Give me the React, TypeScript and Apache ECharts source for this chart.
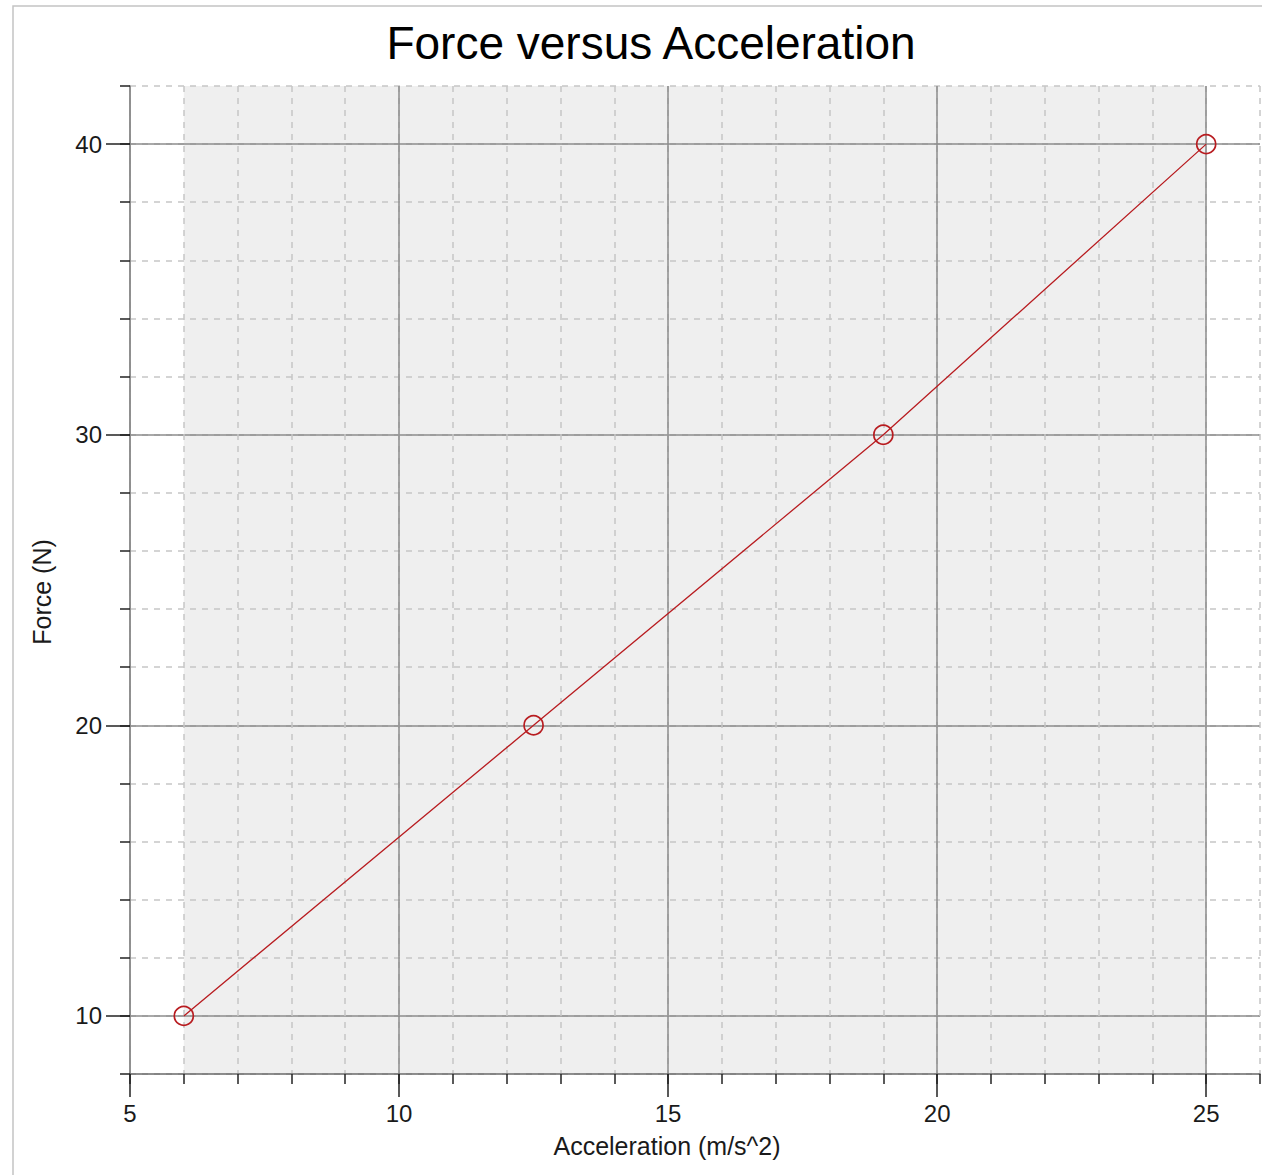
import React, { useEffect, useRef } from "react";
import * as echarts from "echarts";

// Measured points: acceleration (m/s^2) against force (N)
const acceleration = [6, 12.5, 19, 25];
const force = [10, 20, 30, 40];

// Axis extents and labelled ticks
const xMin = 5;
const xMax = 26;
const yMin = 8;
const yMax = 42;
const xMajorTicks = [5, 10, 15, 20, 25];
const yMajorTicks = [10, 20, 30, 40];

// Horizontal span of the measurements, shaded behind the grid
const dataSpan = [[acceleration[0], acceleration[acceleration.length - 1]]];

const FONT = "'Liberation Sans', Arial, sans-serif";
const LINE_RED = "#b81c20";

export default function App() {
  const ref = useRef<HTMLDivElement>(null);

  useEffect(() => {
    if (!ref.current) return;
    const chart = echarts.init(ref.current, undefined, { renderer: "svg" });

    const minorSplit = {
      show: true,
      lineStyle: { color: "#c6c6c6", width: 1.5, type: [6, 6] as number[] },
    };
    const majorSplit = {
      show: true,
      lineStyle: { color: "#8c8c8c", width: 1.5, type: "solid" as const },
    };
    const tickStyle = { color: "#222", width: 1.5 };
    const labelStyle = { fontSize: 24, color: "#1a1a1a", fontFamily: FONT };

    chart.setOption({
      animation: false,
      backgroundColor: "#ffffff",
      grid: {
        left: 130,
        top: 86,
        right: 2,
        bottom: 101,
        containLabel: false,
        outerBoundsMode: "none",
      },
      xAxis: [
        {
          type: "value",
          min: xMin,
          max: xMax,
          interval: 1,
          position: "bottom",
          axisLine: { show: true, onZero: false, lineStyle: { color: "#6a6a6a", width: 1.5 } },
          axisTick: { show: true, length: 10, lineStyle: tickStyle },
          axisLabel: { show: false },
          splitLine: minorSplit,
        },
        {
          type: "value",
          min: xMin,
          max: xMax,
          position: "bottom",
          axisLine: { show: false, onZero: false },
          axisTick: { show: true, length: 23, customValues: xMajorTicks, lineStyle: tickStyle },
          axisLabel: { show: true, margin: 27, customValues: xMajorTicks, ...labelStyle },
          splitLine: majorSplit,
        },
      ],
      yAxis: [
        {
          type: "value",
          min: yMin,
          max: yMax,
          interval: 2,
          position: "left",
          axisLine: { show: true, onZero: false, lineStyle: { color: "#8a8a8a", width: 1.5 } },
          axisTick: { show: true, length: 10, lineStyle: tickStyle },
          axisLabel: { show: false },
          splitLine: minorSplit,
        },
        {
          type: "value",
          min: yMin,
          max: yMax,
          position: "left",
          axisLine: { show: false, onZero: false },
          axisTick: { show: true, length: 24, customValues: yMajorTicks, lineStyle: tickStyle },
          axisLabel: { show: true, margin: 28, customValues: yMajorTicks, ...labelStyle },
          splitLine: majorSplit,
        },
      ],
      graphic: [
        {
          type: "rect",
          silent: true,
          z: -10,
          shape: { x: 13, y: 6, width: 1400, height: 1400 },
          style: { fill: "none", stroke: "#c4c4c4", lineWidth: 1.5 },
        },
        {
          type: "text",
          x: 651,
          y: 43,
          style: {
            text: "Force versus Acceleration",
            font: `46px ${FONT}`,
            fill: "#000",
            align: "center",
            verticalAlign: "middle",
          },
        },
        {
          type: "text",
          x: 667,
          y: 1146,
          style: {
            text: "Acceleration (m/s^2)",
            font: `25px ${FONT}`,
            fill: "#1a1a1a",
            align: "center",
            verticalAlign: "middle",
          },
        },
        {
          type: "text",
          x: 42,
          y: 592,
          rotation: Math.PI / 2,
          style: {
            text: "Force (N)",
            font: `25px ${FONT}`,
            fill: "#1a1a1a",
            align: "center",
            verticalAlign: "middle",
          },
        },
      ],
      series: [
        {
          // light band over the range covered by the data
          type: "custom",
          xAxisIndex: 0,
          yAxisIndex: 0,
          z: -1,
          silent: true,
          data: dataSpan,
          encode: { x: [0, 1] },
          renderItem: (_params: any, api: any) => {
            const topLeft = api.coord([api.value(0), yMax]);
            const bottomRight = api.coord([api.value(1), yMin]);
            return {
              type: "rect",
              shape: {
                x: topLeft[0],
                y: topLeft[1],
                width: bottomRight[0] - topLeft[0],
                height: bottomRight[1] - topLeft[1],
              },
              style: { fill: "#efefef" },
            };
          },
        },
        {
          type: "line",
          xAxisIndex: 0,
          yAxisIndex: 0,
          data: acceleration.map((a, i) => [a, force[i]]),
          lineStyle: { color: LINE_RED, width: 1.3 },
          symbol: "circle",
          symbolSize: 19,
          itemStyle: { color: "transparent", borderColor: LINE_RED, borderWidth: 1.7 },
          z: 5,
        },
      ],
    });

    return () => chart.dispose();
  }, []);

  return (
    <div
      ref={ref}
      style={{ position: "fixed", left: 0, top: 0, width: 1262, height: 1175 }}
    />
  );
}
